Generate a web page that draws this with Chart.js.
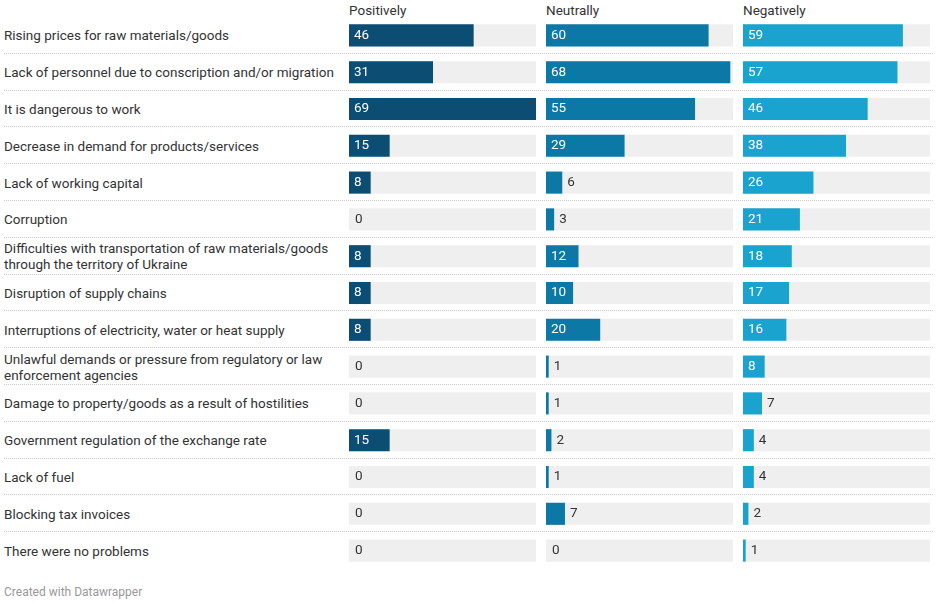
<!DOCTYPE html>
<html><head><meta charset="utf-8">
<script src="https://cdn.jsdelivr.net/npm/chart.js@4"></script>
<style>
body{margin:0;width:938px;height:604px;background:#fff;font-family:Roboto,sans-serif;color:#333;position:relative;overflow:hidden}
.row{position:absolute;left:4px;width:929px;border-bottom:1px dotted #ccc}
.lab{position:absolute;left:4px;width:335px;font-size:13.5px;line-height:16px;display:flex;align-items:center}
.head{position:absolute;top:2px;font-size:13.5px}
canvas{position:absolute}
.foot{position:absolute;left:4px;top:585px;font-size:12px;color:#999}
</style></head><body>
<script>
const categories = [
  "Rising prices for raw materials/goods",
  "Lack of personnel due to conscription and/or migration",
  "It is dangerous to work",
  "Decrease in demand for products/services",
  "Lack of working capital",
  "Corruption",
  "Difficulties with transportation of raw materials/goods through the territory of Ukraine",
  "Disruption of supply chains",
  "Interruptions of electricity, water or heat supply",
  "Unlawful demands or pressure from regulatory or law enforcement agencies",
  "Damage to property/goods as a result of hostilities",
  "Government regulation of the exchange rate",
  "Lack of fuel",
  "Blocking tax invoices",
  "There were no problems"
];
const seriesNames = ["Positively", "Neutrally", "Negatively"];
const positively = [46, 31, 69, 15, 8, 0, 8, 8, 8, 0, 0, 15, 0, 0, 0];
const neutrally  = [60, 68, 55, 29, 6, 3, 12, 10, 20, 1, 1, 2, 1, 7, 0];
const negatively = [59, 57, 46, 38, 26, 21, 18, 17, 16, 8, 7, 4, 4, 2, 1];
const scaleMax = 69;

const colors = ["#0b4d73", "#0c78a5", "#1aa3cf"];
const panelLeft = [349, 546, 743];
const panelWidth = 187;
const top0 = 17, rowH = 36.8;

categories.forEach((c, i) => {
  const r = document.createElement('div');
  r.className = 'row';
  r.style.top = (top0 + i * rowH) + 'px';
  r.style.height = (rowH - 1) + 'px';
  if (i === categories.length - 1) r.style.borderBottom = 'none';
  document.body.appendChild(r);
  const l = document.createElement('div');
  l.className = 'lab';
  l.style.top = (top0 + i * rowH) + 'px';
  l.style.height = rowH + 'px';
  l.textContent = c;
  document.body.appendChild(l);
});

const valueLabels = {
  id: 'valueLabels',
  afterDatasetsDraw(chart) {
    const ctx = chart.ctx;
    const meta = chart.getDatasetMeta(1);
    const xs = chart.scales.x;
    ctx.save();
    ctx.font = '13.5px Roboto, sans-serif';
    ctx.textBaseline = 'middle';
    meta.data.forEach((bar, i) => {
      const v = chart.data.datasets[1].data[i];
      const w = xs.getPixelForValue(v) - xs.getPixelForValue(0);
      if (w > 20) {
        ctx.fillStyle = '#fff';
        ctx.fillText(v, xs.getPixelForValue(0) + 5, bar.y);
      } else {
        ctx.fillStyle = '#333';
        ctx.fillText(v, xs.getPixelForValue(v) + (v === 0 ? 6 : 5), bar.y);
      }
    });
    ctx.restore();
  }
};

[positively, neutrally, negatively].forEach((data, k) => {
  const h = document.createElement('div');
  h.className = 'head';
  h.style.left = panelLeft[k] + 'px';
  h.textContent = seriesNames[k];
  document.body.appendChild(h);
  const cv = document.createElement('canvas');
  cv.style.left = panelLeft[k] + 'px';
  cv.style.top = top0 + 'px';
  cv.style.width = panelWidth + 'px';
  cv.style.height = (rowH * categories.length) + 'px';
  const wrap = document.createElement('div');
  wrap.style.cssText = `position:absolute;left:${panelLeft[k]}px;top:${top0}px;width:${panelWidth}px;height:${rowH * categories.length}px`;
  cv.style.left = '0'; cv.style.top = '0';
  wrap.appendChild(cv);
  document.body.appendChild(wrap);
  new Chart(cv, {
    type: 'bar',
    data: {
      labels: categories,
      datasets: [
        { data: categories.map(() => scaleMax), backgroundColor: '#efefef', grouped: false, order: 2,
          categoryPercentage: 1, barPercentage: 0.6 },
        { data: data, backgroundColor: colors[k], grouped: false, order: 1,
          categoryPercentage: 1, barPercentage: 0.6 }
      ]
    },
    options: {
      indexAxis: 'y',
      responsive: true,
      maintainAspectRatio: false,
      animation: false,
      layout: { padding: 0 },
      plugins: { legend: { display: false }, tooltip: { enabled: false } },
      scales: {
        x: { display: false, min: 0, max: scaleMax },
        y: { display: false }
      }
    },
    plugins: [valueLabels]
  });
});
</script>
<div class="foot">Created with Datawrapper</div>
</body></html>
